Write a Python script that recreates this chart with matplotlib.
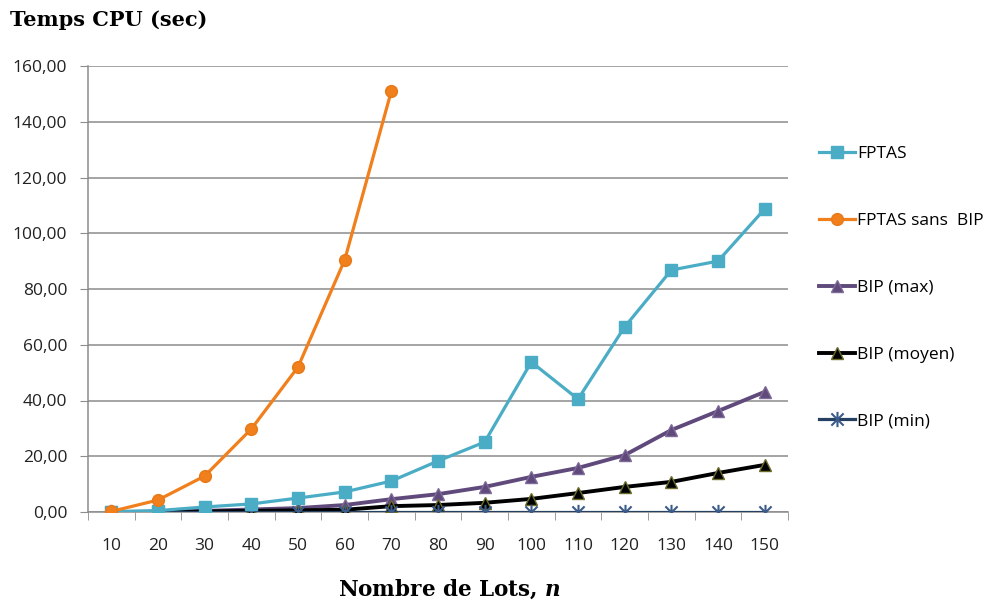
import matplotlib.pyplot as plt
import numpy as np
from matplotlib.path import Path

plt.rcParams["mathtext.fontset"] = "dejavuserif"

# Temps CPU en secondes selon le nombre de lots
n_lots = [10, 20, 30, 40, 50, 60, 70, 80, 90, 100, 110, 120, 130, 140, 150]
fptas = [0.1, 0.5, 1.8, 2.9, 5.0, 7.2, 11.1, 18.3, 25.1, 53.8, 40.5, 66.4, 86.8, 90.0, 108.7]
fptas_sans_bip = [0.2, 4.3, 12.9, 29.8, 52.0, 90.4, 151.0]
bip_max = [0.0, 0.1, 0.4, 0.9, 1.4, 2.5, 4.6, 6.4, 9.0, 12.6, 15.8, 20.4, 29.4, 36.2, 43.1]
bip_moyen = [0.0, 0.05, 0.2, 0.4, 0.6, 0.8, 2.1, 2.5, 3.3, 4.7, 6.8, 9.0, 10.8, 14.0, 16.9]
bip_min = [0.0] * 15

y_ticks = np.arange(0, 161, 20)

# star marker: vertical bar plus an X
star = Path(
    [(0, -1), (0, 1), (-0.8, -0.8), (0.8, 0.8), (-0.8, 0.8), (0.8, -0.8)],
    [Path.MOVETO, Path.LINETO, Path.MOVETO, Path.LINETO, Path.MOVETO, Path.LINETO],
)

fig = plt.figure(figsize=(9.92, 6.03), dpi=100)
ax = fig.add_axes([88 / 992, 91 / 603, 700 / 992, 446 / 603])

x = np.arange(len(n_lots))
lw = 2.3

ax.plot(x, fptas, color="#4bacc6", lw=lw, marker="s", ms=9,
        mfc="#4bacc6", mec="#4bacc6", label="FPTAS", zorder=4)
ax.plot(x[:len(fptas_sans_bip)], fptas_sans_bip, color="#f07f1c", lw=lw,
        marker="o", ms=8.5, mfc="#f07f1c", mec="#e67a1a",
        label="FPTAS sans  BIP", zorder=5)
ax.plot(x, bip_max, color="#5f4a7b", lw=lw + 0.5, marker="^", ms=9,
        mfc="#5f4a7b", mec="#7d6a98", label="BIP (max)", zorder=3)
ax.plot(x, bip_moyen, color="black", lw=lw + 0.5, marker="^", ms=8,
        mfc="black", mec="#6b6b2a", label="BIP (moyen)", zorder=3)
ax.plot(x, bip_min, color="#254061", lw=lw, marker=star, ms=11,
        mec="#3b5b8a", mew=1.5, label="BIP (min)", zorder=3)

ax.set_xlim(-0.5, len(n_lots) - 0.5)
ax.set_ylim(0, 160)
ax.set_yticks(y_ticks)
ax.set_yticklabels([f"{v:.2f}".replace(".", ",") for v in y_ticks])
ax.set_xticks(x)
ax.set_xticklabels([str(v) for v in n_lots])
ax.set_xticks(np.arange(-0.5, len(n_lots)), minor=True)
ax.tick_params(axis="x", which="major", length=0, pad=19)
ax.tick_params(axis="x", which="minor", length=6, color="#8c8c8c", direction="out")
ax.tick_params(axis="y", length=6, color="#8c8c8c", pad=9)
for lab in ax.get_xticklabels() + ax.get_yticklabels():
    lab.set_fontfamily("Open Sans")
    lab.set_fontsize(12.5)
    lab.set_color("#222222")

ax.grid(axis="y", color="#8c8c8c", lw=1.1)
ax.set_axisbelow(True)
for side in ("top", "right"):
    ax.spines[side].set_visible(False)
for side in ("left", "bottom"):
    ax.spines[side].set_color("#8c8c8c")
    ax.spines[side].set_linewidth(1.1)

fig.text(10 / 992, 1 - 20 / 603, "Temps CPU (sec)", fontfamily="DejaVu Serif",
         fontweight="bold", fontsize=15, va="center", ha="left")
fig.text(450 / 992, 1 - 589 / 603, r"Nombre de Lots, $\boldsymbol{n}$",
         fontfamily="DejaVu Serif", fontweight="bold", fontsize=15.5,
         va="center", ha="center")

leg = ax.legend(loc="upper left", bbox_to_anchor=(724 / 700, 1 - 73 / 446),
                frameon=False, handlelength=2.1, handletextpad=0.1,
                labelspacing=2.92, prop={"family": "Open Sans", "size": 12.5},
                borderaxespad=0)

plt.savefig("out.png", dpi=100)
